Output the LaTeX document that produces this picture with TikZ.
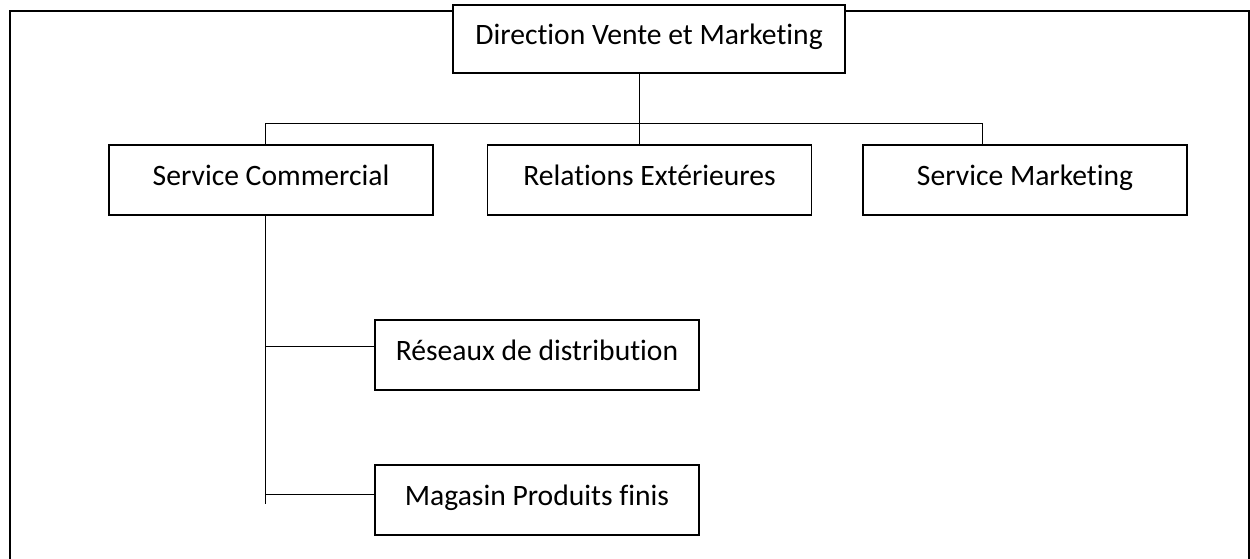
\documentclass[tikz,border=0pt]{standalone}
\usepackage{fontspec}
\setmainfont{Carlito}[Ligatures=NoCommon]
\begin{document}
\begin{tikzpicture}[x=1pt,y=-1pt,
  orgbox/.style={draw=black,line width=1.3pt,fill=white,rectangle,
    inner sep=0pt,outer sep=0pt,minimum width=324pt,minimum height=70pt,
    text height=22pt,text depth=12pt,
    font=\fontsize{29.6}{35}\selectfont},
  link/.style={draw=black,line width=1pt},
  frameline/.style={draw=black,line width=2pt}]
  \useasboundingbox (0,0) rectangle (1250,558);
  \fill[white] (0,0) rectangle (1250,558);

  % open outer frame (no bottom edge)
  \draw[frameline] (10,560) -- (10,11) -- (1248.5,11) -- (1248.5,560);

  % boxes
  \node[orgbox,minimum width=392pt,minimum height=68pt] (dir) at (649,39) {Direction Vente et Marketing};
  \node[orgbox] (sc)  at (271,180)   {Service Commercial};
  \node[orgbox] (rel) at (649.5,180) {Relations Extérieures};
  \node[orgbox] (sm)  at (1025,180)  {Service Marketing};
  \node[orgbox] (res) at (537,355)   {Réseaux de distribution};
  \node[orgbox] (mag) at (537,500)   {Magasin Produits finis};

  % reference points for the connectors
  \coordinate (jl) at (265,123);
  \coordinate (jm) at (639,123);
  \coordinate (jr) at (982,123);
  \coordinate (tail) at (265,504);
  \coordinate (kres) at (265,346);
  \coordinate (kmag) at (265,494);

  % upper level connectors
  \draw[link] (jl) -- (jr);
  \draw[link] (dir.south -| jm) -- (rel.north -| jm);
  \draw[link] (jl) -- (sc.north -| jl);
  \draw[link] (jr) -- (sm.north -| jr);

  % lower level connectors
  \draw[link] (sc.south -| tail) -- (tail);
  \draw[link] (kres) -- (res.west |- kres);
  \draw[link] (kmag) -- (mag.west |- kmag);
\end{tikzpicture}
\end{document}
